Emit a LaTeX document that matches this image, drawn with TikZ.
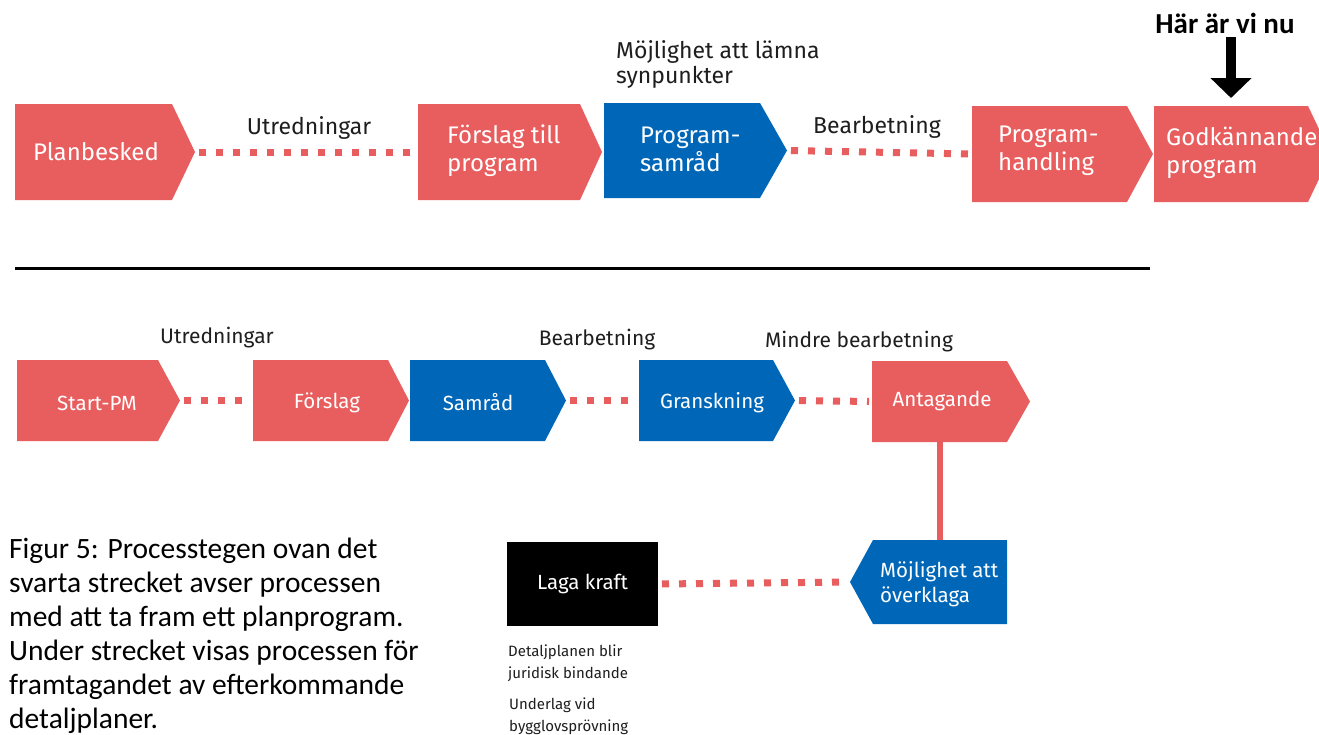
\documentclass[tikz,border=0pt]{standalone}
\usepackage{fontspec}
\setmainfont{Fira Sans}
\newfontfamily\capfont{Carlito}
\usetikzlibrary{arrows.meta,calc}
\definecolor{pred}{HTML}{E85E5E}
\definecolor{pblue}{HTML}{0067B8}
\definecolor{ink}{HTML}{1E1E1E}
% name, x1, y1, x2, y2, tip x, colour  (arrow pointing right)
\newcommand{\procstepR}[7]{%
  \node[box, minimum width={(#4)-(#2)}, minimum height={(#5)-(#3)}] (#1) at (#2,#3) {};
  \coordinate (#1-tip) at (#6,{((#3)+(#5))/2});
  \fill[#7] (#1.north west) -- (#1.north east) -- (#1-tip) -- (#1.south east) -- (#1.south west) -- cycle;
}
% name, x1, y1, x2, y2, tip x, colour  (arrow pointing left)
\newcommand{\procstepL}[7]{%
  \node[box, minimum width={(#4)-(#2)}, minimum height={(#5)-(#3)}] (#1) at (#2,#3) {};
  \coordinate (#1-tip) at (#6,{((#3)+(#5))/2});
  \fill[#7] (#1.north west) -- (#1.north east) -- (#1.south east) -- (#1.south west) -- (#1-tip) -- cycle;
}
\begin{document}
\begin{tikzpicture}[x=1pt,y=-1pt,
  box/.style={inner sep=0pt, outer sep=0pt, anchor=north west},
  btext/.style={text=white, font=\fontsize{24}{28}\selectfont, align=left, inner sep=0pt},
  stext/.style={text=white, font=\fontsize{20.5}{25}\selectfont, align=left, inner sep=0pt},
  lab/.style={text=ink, font=\fontsize{23}{25}\selectfont, inner sep=0pt},
  slab/.style={text=ink, font=\fontsize{21}{23}\selectfont, inner sep=0pt},
  note/.style={text=ink, font=\fontsize{15}{22}\selectfont, align=left, inner sep=0pt},
  captionline/.style={text=black, font=\capfont\fontsize{29.5}{34}\selectfont, inner sep=0pt, anchor=base west},
  dots/.style={draw=pred, line width=7pt, dash pattern=on 7pt off 10pt, shorten <=4pt, shorten >=3pt},
  bigarrow/.style={draw=black, line width=10pt, -{Triangle[width=40pt,length=20pt]}},
]
\clip (0,0) rectangle (1319,734);
\fill[white] (0,0) rectangle (1319,734);

% ---------- top row ----------
\procstepR{planb}{15}{104}{172}{200}{195}{pred}
\procstepR{forsp}{418}{104}{580}{200}{602}{pred}
\procstepR{progs}{604}{103}{760}{198}{787}{pblue}
\procstepR{progh}{972}{106}{1127}{202}{1153}{pred}
\procstepR{godk}{1154}{106}{1308}{202}{1331}{pred}

\node[btext, anchor=center] (t-planb) at (96,152) {Planbesked};
\node[btext, anchor=west] (t-forsp) at (447,151) {Förslag till\\program};
\node[btext, anchor=west] (t-progs) at (640,149) {Program-\\samråd};
\node[btext, anchor=west] (t-progh) at (998,151) {Program-\\handling};
\node[btext, anchor=west] (t-godk) at (1166,153) {Godkännande\\program};

\draw[dots] (planb-tip) -- (forsp.west);
\draw[dots] (progs-tip) -- (progh.west);

\node[lab] (l-utr1) at (309,128) {Utredningar};
\node[lab] (l-bea1) at (877,127) {Bearbetning};
\node[lab, anchor=base west] (l-moj1) at (616,58) {Möjlighet att lämna};
\node[lab, anchor=base west] (l-moj2) at (616,83) {synpunkter};

\node[font=\capfont\bfseries\fontsize{29}{32}\selectfont, inner sep=0pt, anchor=base] (here) at (1225,33) {Här är vi nu};
\draw[bigarrow, shorten <=4pt, shorten >=8pt] (godk.north |- here.south) -- (godk.north);

% separator
\draw[line width=3pt, black] (15,268) -- (1150,268);

% ---------- bottom row ----------
\procstepR{start}{17}{360}{158}{441}{180}{pred}
\procstepR{forsl}{253}{360}{388}{441}{409}{pred}
\procstepR{samr}{410}{360}{545}{441}{566}{pblue}
\procstepR{gran}{639}{360}{773}{441}{795}{pblue}
\procstepR{antag}{872}{361}{1007}{442}{1030}{pred}

\node[stext, anchor=center] (t-start) at (97,403) {Start-PM};
\node[stext, anchor=center] (t-forsl) at (327,403) {Förslag};
\node[stext, anchor=center] (t-samr) at (478,402) {Samråd};
\node[stext, anchor=center] (t-gran) at (712,403) {Granskning};
\node[stext, anchor=center] (t-antag) at (942,401) {Antagande};

\draw[dots] (start-tip) -- (forsl.west);
\draw[dots] (samr-tip) -- (gran.west);
\draw[dots] (gran-tip) -- (antag.west);

\node[slab] (l-utr2) at (217,338) {Utredningar};
\node[slab] (l-bea2) at (597,340) {Bearbetning};
\node[slab] (l-min) at (859,342) {Mindre bearbetning};

% appeal step and legal force
\procstepL{ovk}{873}{540}{1007}{624}{850}{pblue}
\node[stext, anchor=west] (t-ovk) at (880,584) {Möjlighet att\\överklaga};
\draw[pred, line width=6pt] (antag.south) -- (antag.south |- ovk.north);

\node[box, fill=black, minimum width=151pt, minimum height=84pt] (laga) at (507,542) {};
\node[stext, anchor=center] (t-laga) at (laga.center) {Laga kraft};
\draw[dots] (laga.east) -- (ovk-tip);

\node[note, anchor=west] (n-det) at (508,663) {Detaljplanen blir\\juridisk bindande};
\node[note, anchor=west] (n-und) at (509,716) {Underlag vid\\bygglovsprövning};

% caption
\node[captionline] (c1) at (9,558) {Figur 5: Processtegen ovan det};
\node[captionline] (c2) at (9,592) {svarta strecket avser processen};
\node[captionline] (c3) at (9,626) {med att ta fram ett planprogram.};
\node[captionline] (c4) at (9,660) {Under strecket visas processen för};
\node[captionline] (c5) at (9,694) {framtagandet av efterkommande};
\node[captionline] (c6) at (9,728) {detaljplaner.};
\end{tikzpicture}
\end{document}
